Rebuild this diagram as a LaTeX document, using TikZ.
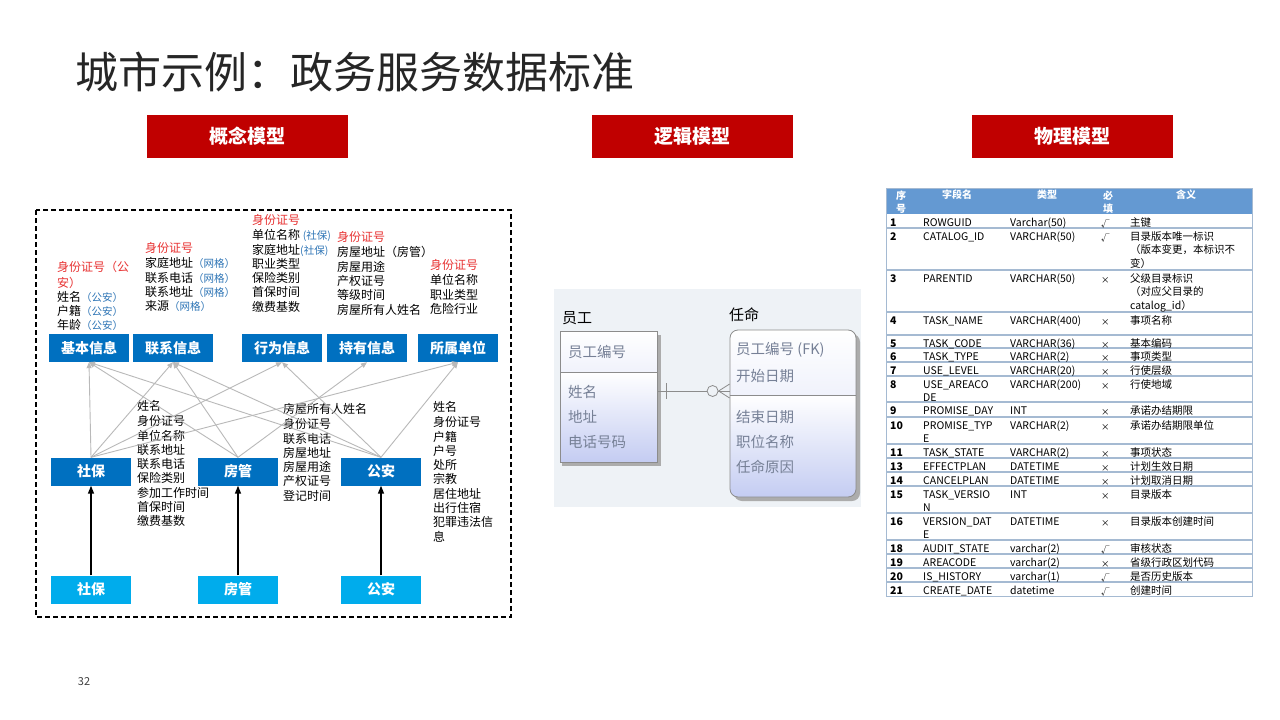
\documentclass[tikz,border=0pt]{standalone}
\usepackage{fontspec}
\setmainfont{Noto Sans CJK SC}
\usepackage{xcolor}
\usetikzlibrary{arrows.meta, positioning}
\definecolor{titlegray}{RGB}{38,38,38}
\definecolor{modelred}{RGB}{192,0,0}
\definecolor{darkblue}{RGB}{0,112,192}
\definecolor{lightblue}{RGB}{0,172,236}
\definecolor{idred}{RGB}{232,50,50}
\definecolor{srcblue}{RGB}{46,117,182}
\definecolor{linkgray}{RGB}{185,185,185}
\definecolor{headblue}{RGB}{100,153,210}
\definecolor{gridblue}{RGB}{165,186,210}
\definecolor{erback}{RGB}{238,242,246}
\definecolor{ergray}{RGB}{118,128,150}
\definecolor{erlav}{RGB}{196,204,242}
\definecolor{eredge}{RGB}{140,140,140}

\newcommand{\srcnote}[1]{{\fontsize{10.5}{14.3}\selectfont\color{srcblue}#1}}
\newcommand{\idtext}[1]{\textcolor{idred}{#1}}

\tikzset{
  modelbox/.style={fill=modelred, text=white, font=\fontsize{19}{22}\selectfont\bfseries,
    minimum width=201pt, minimum height=43pt, inner sep=0pt},
  infobox/.style={fill=darkblue, text=white, font=\fontsize{14}{16}\selectfont\bfseries,
    minimum width=80pt, minimum height=28pt, inner sep=0pt},
  sourcebox/.style={infobox, fill=lightblue},
  fieldtext/.style={anchor=north west, align=left, inner sep=0pt, font=\fontsize{12}{14.3}\selectfont},
  linkarrow/.style={draw=linkgray, line width=0.9pt, -{Triangle[length=6pt,width=5pt]}},
  feedarrow/.style={draw=black, line width=1.5pt, -{Triangle[length=8pt,width=6pt]}},
  erlabel/.style={anchor=west, inner sep=0pt, font=\fontsize{15}{18}\selectfont},
  ertext/.style={anchor=west, inner sep=0pt, text=ergray, font=\fontsize{14.5}{18}\selectfont},
  erline/.style={draw=eredge, line width=0.8pt},
  cell/.style={anchor=north west, align=left, inner sep=0pt, font=\fontsize{10.5}{13.5}\selectfont},
  headcell/.style={align=center, inner sep=0pt, text=white, font=\fontsize{10}{13.5}\selectfont\bfseries},
}

\begin{document}
\begin{tikzpicture}[x=1pt, y=-1pt]
\useasboundingbox[fill=white] (0,0) rectangle (1280,720);

% Title
\node[anchor=west, inner sep=0pt, text=titlegray, font=\fontsize{43}{48}\selectfont] (title) at (75,72) {城市示例：政务服务数据标准};
\node[inner sep=0pt, text=black!75, font=\fontsize{11}{13}\selectfont] (pageno) at (84,682) {32};

% Model headers
\node[modelbox] (concept) at (247.5,136.5) {概念模型};
\node[modelbox] (logic) at (692.5,136.5) {逻辑模型};
\node[modelbox] (physic) at (1072.5,136.5) {物理模型};

% Conceptual model
\draw[line width=1.3pt, dash pattern=on 5pt off 3pt] (36,210) rectangle (511,617);

\node[infobox] (basic) at (89,348) {基本信息};
\node[infobox] (contact) at (173,348) {联系信息};
\node[infobox] (behave) at (282,348) {行为信息};
\node[infobox] (holding) at (367,348) {持有信息};
\node[infobox] (employer) at (458,348) {所属单位};

\node[infobox] (shebao) at (91,471.5) {社保};
\node[infobox] (fangguan) at (238,471.5) {房管};
\node[infobox] (gongan) at (381,471.5) {公安};

\node[sourcebox] (shebaosrc) at (91,589.5) {社保};
\node[sourcebox] (fangguansrc) at (238,589.5) {房管};
\node[sourcebox] (gongansrc) at (381,589.5) {公安};

% Fields above
\node[fieldtext] (basicf) at (57,261) {\strut\idtext{身份证号（公}\\ \idtext{安）}\\ 姓名\srcnote{（公安）}\\ 户籍\srcnote{（公安）}\\ 年龄\srcnote{（公安）}};
\node[fieldtext] (contactf) at (145,242) {\strut\idtext{身份证号}\\ 家庭地址\srcnote{（网格）}\\ 联系电话\srcnote{（网格）}\\ 联系地址\srcnote{（网格）}\\ 来源\srcnote{（网格）}};
\node[fieldtext] (behavef) at (252,214) {\strut\idtext{身份证号}\\ 单位名称 \srcnote{(社保)}\\ 家庭地址\srcnote{(社保)}\\ 职业类型\\ 保险类别\\ 首保时间\\ 缴费基数};
\node[fieldtext] (holdingf) at (337,231) {\strut\idtext{身份证号}\\ 房屋地址（房管）\\ 房屋用途\\ 产权证号\\ 等级时间\\ 房屋所有人姓名};
\node[fieldtext] (employerf) at (430,259) {\strut\idtext{身份证号}\\ 单位名称\\ 职业类型\\ 危险行业};

% Fields below
\node[fieldtext] (shebaof) at (137,400) {\strut 姓名\\ 身份证号\\ 单位名称\\ 联系地址\\ 联系电话\\ 保险类别\\ 参加工作时间\\ 首保时间\\ 缴费基数};
\node[fieldtext] (fangguanf) at (283,403) {\strut 房屋所有人姓名\\ 身份证号\\ 联系电话\\ 房屋地址\\ 房屋用途\\ 产权证号\\ 登记时间};
\node[fieldtext] (gonganf) at (433,401) {\strut 姓名\\ 身份证号\\ 户籍\\ 户号\\ 处所\\ 宗教\\ 居住地址\\ 出行住宿\\ 犯罪违法信\\ 息};

% Links
\draw[linkarrow] (shebao.north) -- (basic.south);
\draw[linkarrow] (shebao.north) -- (contact.south);
\draw[linkarrow] (shebao.north) -- (behave.south);
\draw[linkarrow] (shebao.north) -- (employer.south);
\draw[linkarrow] (fangguan.north) -- (basic.south);
\draw[linkarrow] (fangguan.north) -- (contact.south);
\draw[linkarrow] (fangguan.north) -- (holding.south);
\draw[linkarrow] (gongan.north) -- (basic.south);
\draw[linkarrow] (gongan.north) -- (contact.south);
\draw[linkarrow] (gongan.north) -- (behave.south);
\draw[linkarrow] (gongan.north) -- (employer.south);

\draw[feedarrow] (shebaosrc) -- (shebao);
\draw[feedarrow] (fangguansrc) -- (fangguan);
\draw[feedarrow] (gongansrc) -- (gongan);

% Logical model
\fill[erback] (554,289) rectangle (861,507);
\node[erlabel] (yglabel) at (562,318) {员工};
\node[erlabel] (rmlabel) at (729,315) {任命};

% shadows
\fill[gray!65] (562,335) rectangle (661,466);
\fill[gray!65, rounded corners=8pt] (734,334) rectangle (860,501);

% entities
\shade[top color=white, bottom color=erlav!25] (560,331) rectangle (657,372);
\shade[top color=white, bottom color=erlav] (560,372) rectangle (657,462);
\node[erline, minimum width=97pt, minimum height=131pt, inner sep=0pt] (yg) at (608.5,396.5) {};
\draw[erline] (560,372) -- (657,372);

\begin{scope}
  \clip[rounded corners=8pt] (730,330) rectangle (856,497);
  \shade[top color=white, bottom color=erlav!25] (730,330) rectangle (856,395);
  \shade[top color=white, bottom color=erlav] (730,395) rectangle (856,497);
\end{scope}
\node[erline, rounded corners=8pt, minimum width=126pt, minimum height=167pt, inner sep=0pt] (rm) at (793,413.5) {};
\draw[erline] (730,395) -- (856,395);

\node[ertext] (yg1) at (568,352) {员工编号};
\node[ertext] (yg2) at (568,392) {姓名};
\node[ertext] (yg3) at (568,417) {地址};
\node[ertext] (yg4) at (568,442) {电话号码};

\node[ertext] (rm1) at (736,350) {员工编号 (FK)};
\node[ertext] (rm2) at (736,376) {开始日期};
\node[ertext] (rm3) at (736,417) {结束日期};
\node[ertext] (rm4) at (736,442) {职位名称};
\node[ertext] (rm5) at (736,467) {任命原因};

% relation
\draw[erline] ([yshift=5.5pt]yg.east) coordinate (relA) -- (relA -| rm.west) coordinate (relB);
\draw[erline] ([xshift=9pt,yshift=8pt]relA) -- ([xshift=9pt,yshift=-8pt]relA);
\draw[erline, fill=erback] ([xshift=-17pt]relB) circle (5.5pt);
\draw[erline] ([yshift=7pt]relB) -- ([xshift=-11pt]relB) -- ([yshift=-7pt]relB);

% Physical model
\fill[headblue] (886,188) rectangle (1252,214);
\node[headcell] (hno) at (901,202) {序\\号};
\node[headcell] (hfield) at (957,195) {字段名};
\node[headcell] (htype) at (1047,195) {类型};
\node[headcell] (hreq) at (1108,202) {必\\填};
\node[headcell] (hmean) at (1186,195) {含义};

\foreach \y in {228,270,312,335,348,362,376,402,417,444,458,472,486,513,540,554,568,582}
  \draw[gridblue, line width=1.2pt] (886,\y) -- (1252,\y);
\draw[gridblue, line width=1pt] (886,188) rectangle (1252,596);

\foreach \rt/\no/\fld/\typ/\req/\mean in {
  214/1/ROWGUID/Varchar(50)/√/主键,
  228/2/CATALOG\_ID/VARCHAR(50)/√/{目录版本唯一标识\\（版本变更，本标识不\\变）},
  270/3/PARENTID/VARCHAR(50)/×/{父级目录标识\\（对应父目录的\\catalog\_id）},
  312/4/TASK\_NAME/VARCHAR(400)/×/事项名称,
  335/5/TASK\_CODE/VARCHAR(36)/×/基本编码,
  348/6/TASK\_TYPE/VARCHAR(2)/×/事项类型,
  362/7/USE\_LEVEL/VARCHAR(20)/×/行使层级,
  376/8/{USE\_AREACO\\DE}/VARCHAR(200)/×/行使地域,
  402/9/PROMISE\_DAY/INT/×/承诺办结期限,
  417/10/{PROMISE\_TYP\\E}/VARCHAR(2)/×/承诺办结期限单位,
  444/11/TASK\_STATE/VARCHAR(2)/×/事项状态,
  458/13/EFFECTPLAN/DATETIME/×/计划生效日期,
  472/14/CANCELPLAN/DATETIME/×/计划取消日期,
  486/15/{TASK\_VERSIO\\N}/INT/×/目录版本,
  513/16/{VERSION\_DAT\\E}/DATETIME/×/目录版本创建时间,
  540/18/AUDIT\_STATE/varchar(2)/√/审核状态,
  554/19/AREACODE/varchar(2)/×/省级行政区划代码,
  568/20/IS\_HISTORY/varchar(1)/√/是否历史版本,
  582/21/CREATE\_DATE/datetime/√/创建时间}{
  \node[cell, font=\fontsize{10.5}{13.5}\selectfont\bfseries] (no\no) at (890,\rt+2.5) {\strut\no};
  \node[cell] (fld\no) at (923,\rt+2.5) {\strut\fld};
  \node[cell] (typ\no) at (1010,\rt+2.5) {\strut\typ};
  \node[cell, font=\fontsize{8.5}{13.5}\selectfont] (req\no) at (1101,\rt+3.5) {\strut\req};
  \node[cell] (mean\no) at (1130,\rt+2.5) {\strut\mean};
}
\end{tikzpicture}
\end{document}
